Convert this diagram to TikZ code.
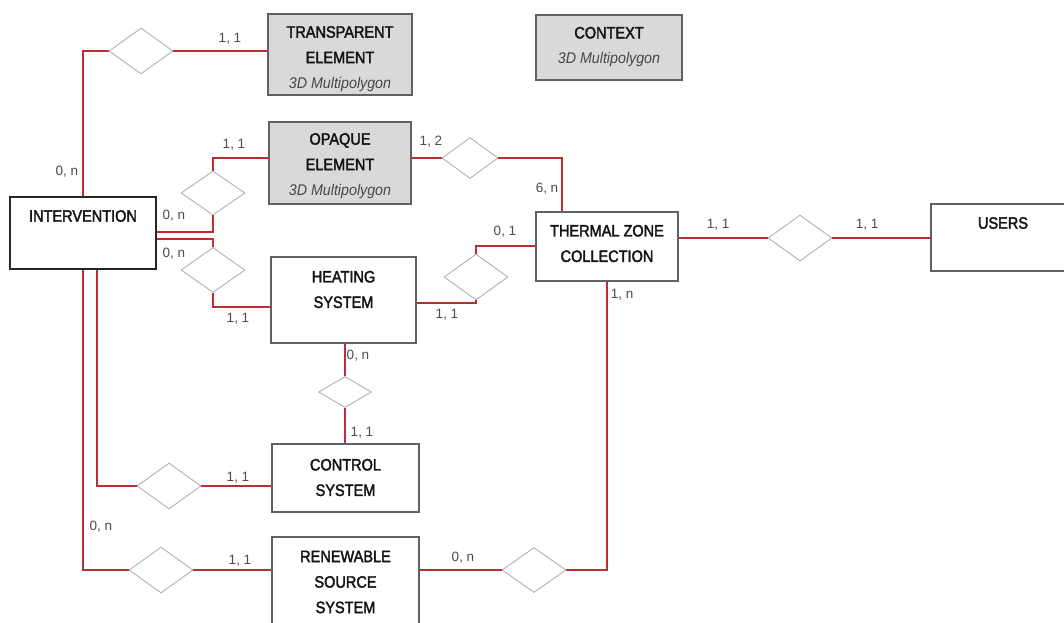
\documentclass[tikz,border=0pt]{standalone}
\usepackage{fontspec}
\setmainfont{Liberation Sans}
\newfontfamily\ttlfont{Liberation Sans}[FakeStretch=0.88,FakeBold=2.2]
\newfontfamily\subfont{Liberation Sans}[FakeStretch=0.92]
\newfontfamily\lblfont{Liberation Sans}
\usetikzlibrary{shapes.geometric}
\definecolor{relred}{RGB}{185,48,48}
\definecolor{entgray}{RGB}{217,217,217}
\newcommand{\subline}[1]{{\subfont\itshape\color{black!72}\fontsize{15.5}{25.5}\selectfont #1}}
\begin{document}
\begin{tikzpicture}[x=1pt,y=-1pt,
  ent/.style={draw=black!62, line width=1.1pt, fill=white, inner sep=0pt},
  gent/.style={ent, fill=entgray},
  dia/.style={diamond, draw=black!30, line width=0.9pt, fill=white, inner sep=0pt, minimum width=64pt, minimum height=46pt},
  rel/.style={draw=relred, line width=1.6pt},
  ttl/.style={font=\ttlfont\fontsize{16.5}{25.5}\selectfont, align=center, text=black!92, inner sep=0pt},
  lbl/.style={font=\lblfont\fontsize{13.5}{14}\selectfont, text=black!70, inner sep=0pt}]
\useasboundingbox (0,0) rectangle (1064,622);
\fill[white] (0,0) rectangle (1064,622);

% entities
\node[ent, draw=black!85, line width=1.4pt, minimum width=146pt, minimum height=72pt] (interv) at (83,233) {};
\node[gent, minimum width=144pt, minimum height=81pt] (trans) at (340,54.5) {};
\node[gent, minimum width=142pt, minimum height=82pt] (opq) at (340,163) {};
\node[gent, minimum width=146pt, minimum height=65pt] (ctx) at (609,47.5) {};
\node[ent, minimum width=145pt, minimum height=86pt] (heat) at (343.5,300) {};
\node[ent, minimum width=142pt, minimum height=69pt] (tz) at (607,246.5) {};
\node[ent, minimum width=139pt, minimum height=67pt] (users) at (1000.5,237.5) {};
\node[ent, minimum width=147pt, minimum height=68pt] (ctrl) at (345.5,478) {};
\node[ent, minimum width=147pt, minimum height=103pt] (ren) at (345.5,588.5) {};

% entity texts
\node[ttl] (tinterv) at (83,216) {INTERVENTION};
\node[ttl] (ttrans) at (340,59) {TRANSPARENT\\ELEMENT\\\subline{3D Multipolygon}};
\node[ttl] (topq) at (340,166) {OPAQUE\\ELEMENT\\\subline{3D Multipolygon}};
\node[ttl] (tctx) at (609,47) {CONTEXT\\\subline{3D Multipolygon}};
\node[ttl] (theat) at (343.5,289.5) {HEATING\\SYSTEM};
\node[ttl] (ttz) at (607,243.5) {THERMAL ZONE\\COLLECTION};
\node[ttl] (tusers) at (1003,223) {USERS};
\node[ttl] (tctrl) at (345.5,477.5) {CONTROL\\SYSTEM};
\node[ttl] (tren) at (345.5,582) {RENEWABLE\\SOURCE\\SYSTEM};

% relationships
\node[dia] (d1) at (141,51) {};
\node[dia, minimum height=44pt] (d2) at (213,193) {};
\node[dia, minimum height=45pt] (d3) at (213,270) {};
\node[dia, minimum width=56pt, minimum height=41pt] (d4) at (470,158) {};
\node[dia] (d5) at (476,277) {};
\node[dia] (d6) at (800,238) {};
\node[dia, minimum width=53pt, minimum height=31pt] (d7) at (345,392) {};
\node[dia] (d8) at (169,486) {};
\node[dia] (d9) at (161,570) {};
\node[dia, minimum height=45pt] (d10) at (534,570) {};

% connectors
\draw[rel] (interv.north) |- (d1.west);
\draw[rel] (d1.east) -- (d1.east -| trans.west);
\draw[rel] (d2.north) |- ([yshift=5pt]opq.west);
\draw[rel] ([yshift=1pt]interv.east) -| (d2.south);
\draw[rel] ([yshift=-6pt]interv.east) -| (d3.north);
\draw[rel] (d3.south) |- ([yshift=-7pt]heat.west);
\draw[rel] ([yshift=-3pt]heat.east) -| (d5.south);
\draw[rel] (d5.north) |- ([yshift=0.5pt]tz.west);
\draw[rel] (d4.west -| opq.east) -- (d4.west);
\draw[rel] (d4.east) -| ([xshift=-45pt]tz.north);
\draw[rel] (d6.west -| tz.east) -- (d6.west);
\draw[rel] (d6.east) -- (d6.east -| users.west);
\draw[rel] (tz.south) |- (d10.east);
\draw[rel] (d10.west) -- (d10.west -| ren.east);
\draw[rel] (interv.south) |- (d9.west);
\draw[rel] (d9.east) -- (d9.east -| ren.west);
\draw[rel] ([xshift=14pt]interv.south) |- (d8.west);
\draw[rel] (d8.east) -- (d8.east -| ctrl.west);
\draw[rel] (d7.north) -- (d7.north |- heat.south);
\draw[rel] (d7.south) -- (d7.south |- ctrl.north);

% cardinality labels
\node[lbl] (l1) at (230,39) {1, 1};
\node[lbl] (l2) at (67,172) {0, n};
\node[lbl] (l3) at (234,145) {1, 1};
\node[lbl] (l4) at (174,216) {0, n};
\node[lbl] (l5) at (174,254) {0, n};
\node[lbl] (l6) at (238,319) {1, 1};
\node[lbl] (l7) at (431,142) {1, 2};
\node[lbl] (l8) at (547,189) {6, n};
\node[lbl] (l9) at (505,232) {0, 1};
\node[lbl] (l10) at (447,315) {1, 1};
\node[lbl] (l11) at (622,295) {1, n};
\node[lbl] (l12) at (718,225) {1, 1};
\node[lbl] (l13) at (867,225) {1, 1};
\node[lbl] (l14) at (358,356) {0, n};
\node[lbl] (l15) at (362,433) {1, 1};
\node[lbl] (l16) at (238,478) {1, 1};
\node[lbl] (l17) at (101,527) {0, n};
\node[lbl] (l18) at (240,561) {1, 1};
\node[lbl] (l19) at (463,558) {0, n};
\end{tikzpicture}
\end{document}
